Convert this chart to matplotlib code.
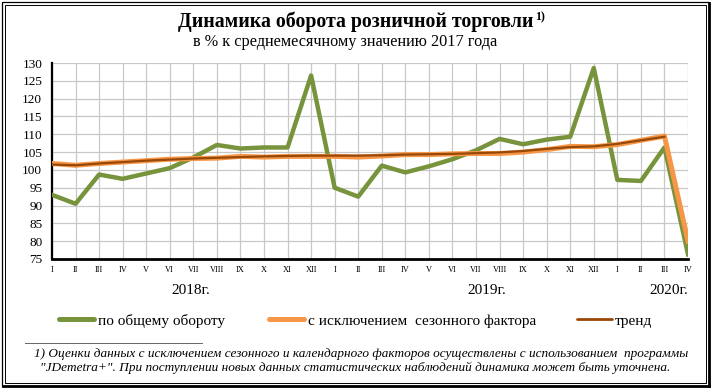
import matplotlib
matplotlib.use("Agg")
import matplotlib.pyplot as plt
import matplotlib.transforms as mtransforms
from matplotlib.lines import Line2D
from matplotlib.patches import Rectangle

# месяцы: I.2018 - IV.2020
months = ['I', 'II', 'III', 'IV', 'V', 'VI', 'VII', 'VIII', 'IX', 'X', 'XI', 'XII'] * 2 + ['I', 'II', 'III', 'IV']

total = [93.0, 90.5, 98.7, 97.5, 99.0, 100.5, 103.5, 107.0, 106.0, 106.3, 106.3, 126.5,
         95.0, 92.5, 101.2, 99.3, 101.0, 103.0, 105.5, 108.7, 107.2, 108.5, 109.3, 128.6,
         97.2, 96.9, 106.3, 76.3]
seasonal = [101.8, 101.3, 101.8, 102.2, 102.6, 103.0, 103.2, 103.3, 103.8, 103.6, 103.8, 103.8,
            103.8, 103.6, 103.9, 104.3, 104.3, 104.5, 104.6, 104.6, 105.0, 105.7, 106.6, 106.5,
            107.1, 108.3, 109.5, 80.0]
trend = [101.5, 101.3, 101.8, 102.2, 102.6, 102.9, 103.2, 103.4, 103.6, 103.8, 103.9, 104.0,
         104.0, 104.0, 104.1, 104.3, 104.4, 104.5, 104.7, 104.9, 105.3, 105.9, 106.4, 106.6,
         107.3, 108.3, 109.3]

years = ['2018г.', '2019г.', '2020г.']
year_pos = [5.9, 18.45, 26.2]

legend_labels = ['по общему обороту', 'с исключением  сезонного фактора', 'тренд']

plt.rcParams['font.family'] = ['Liberation Serif', 'DejaVu Serif']

c_green = '#77933C'
c_orange = '#F79646'
c_brown = '#984807'

W, H = 711, 388
fig = plt.figure(figsize=(W / 100, H / 100), dpi=100)
ax = fig.add_axes([52 / W, 1 - 259 / H, 636 / W, 196 / H])

x = list(range(len(months)))
ax.plot(x, total, color=c_green, lw=3.2, zorder=3)
ax.plot(x, seasonal, color=c_orange, lw=3.6, zorder=4)
ax.plot(x[:len(trend)], trend, color=c_brown, lw=1.6, zorder=5)

ax.set_xlim(0, len(months) - 1)
ax.set_ylim(75, 130)
ax.set_xticks(x)
ax.set_xticklabels(months, fontsize=6)
ax.set_yticks(range(75, 131, 5))
ax.tick_params(axis='y', labelsize=9.5, length=0, pad=7)
ax.tick_params(axis='x', length=0, pad=5)
ax.grid(True, color='#C8C8C8', lw=0.9)
ax.set_axisbelow(True)
for s in ['top', 'right']:
    ax.spines[s].set_visible(False)
ax.spines['left'].set_linewidth(1.6)
ax.spines['bottom'].set_linewidth(2.0)

trans = mtransforms.blended_transform_factory(ax.transData, fig.transFigure)
for yl, xp in zip(years, year_pos):
    ax.text(xp, 1 - 291 / H, yl, transform=trans, ha='center', va='center', fontsize=11)

title = fig.text(356 / W, 1 - 26.5 / H, 'Динамика оборота розничной торговли',
                 ha='center', va='baseline', fontsize=14.3, fontweight='bold')
ax.annotate('1)', xy=(1, 1), xycoords=title, xytext=(1, 0), textcoords='offset points',
            ha='left', va='top', fontsize=8.5, fontweight='bold', annotation_clip=False)
fig.text(345 / W, 1 - 45.5 / H, 'в % к среднемесячному значению 2017 года',
         ha='center', va='baseline', fontsize=11.7)

# легенда (вручную)
leg_y = 1 - 319 / H
leg_items = [(59, 98, c_green, 3.6), (269, 308, c_orange, 3.6), (577, 615, c_brown, 2.0)]
for (x0, xt, col, lw), lab in zip(leg_items, legend_labels):
    fig.add_artist(Line2D([x0 / W, (x0 + 35) / W], [leg_y, leg_y], color=col, lw=lw,
                          solid_capstyle='round'))
    fig.text(xt / W, 1 - 324.5 / H, lab, ha='left', va='baseline', fontsize=11)

# сноска
fig.add_artist(Line2D([25 / W, 202 / W], [1 - 343 / H, 1 - 343 / H], color='#666666', lw=0.7))
fig.text(361 / W, 1 - 357 / H,
         '1) Оценки данных с исключением сезонного и календарного факторов осуществлены с использованием  программы',
         ha='center', va='baseline', fontsize=9.5, style='italic')
fig.text(355 / W, 1 - 370.5 / H,
         '"JDemetra+". При поступлении новых данных статистических наблюдений динамика может быть уточнена.',
         ha='center', va='baseline', fontsize=9.5, style='italic')

# рамка
fig.add_artist(Rectangle((2 / W, 2 / H), 707 / W, 384 / H, transform=fig.transFigure,
                         fill=False, lw=0.9, ec='black'))
fig.add_artist(Rectangle((5 / W, 5 / H), 701 / W, 378 / H, transform=fig.transFigure,
                         fill=False, lw=0.7, ec='black'))
fig.add_artist(Line2D([3 / W, 709 / W], [2.5 / H, 2.5 / H], color='black', lw=2.0))
fig.add_artist(Line2D([708.5 / W, 708.5 / W], [2 / H, 385 / H], color='black', lw=2.0))

fig.savefig('out.png', dpi=100)
